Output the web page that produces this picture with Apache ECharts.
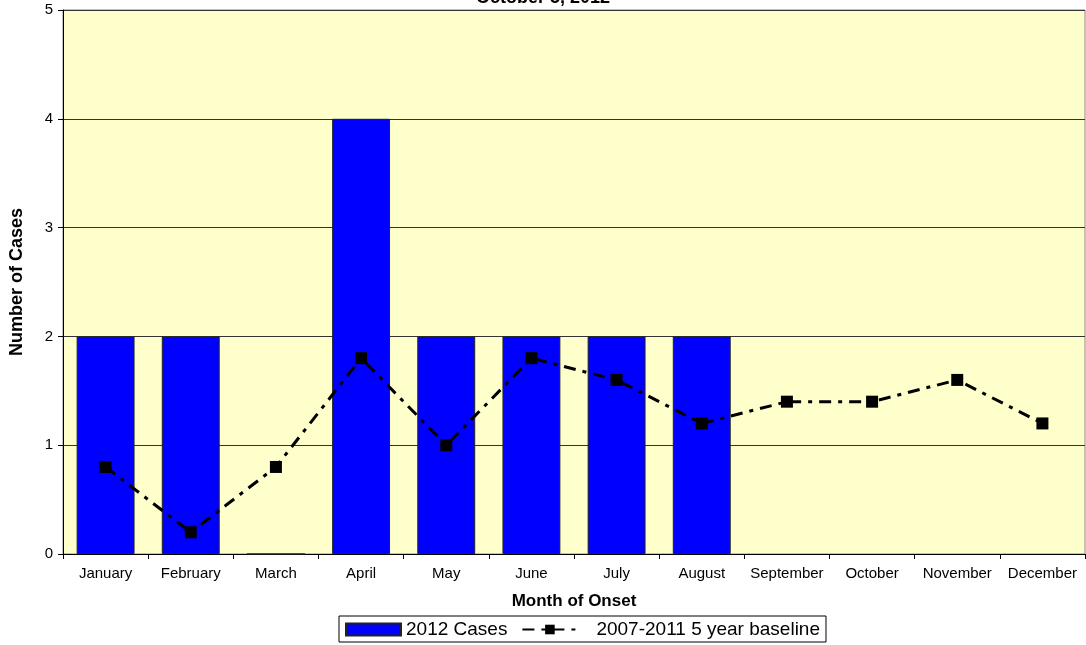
<!DOCTYPE html>
<html>
<head>
<meta charset="utf-8">
<script src="https://cdn.jsdelivr.net/npm/echarts@6/dist/echarts.min.js"></script>
<style>
  html, body { margin: 0; padding: 0; background: #fff; }
  #container { width: 1086px; height: 645px; }
</style>
</head>
<body>
<div id="container"></div>
<script>
var months = ['January', 'February', 'March', 'April', 'May', 'June', 'July', 'August', 'September', 'October', 'November', 'December'];
var cases2012 = [2, 2, 0, 4, 2, 2, 2, 2, null, null, null, null];
var baseline = [0.8, 0.2, 0.8, 1.8, 1.0, 1.8, 1.6, 1.2, 1.4, 1.4, 1.6, 1.2];
var yTicks = [0, 1, 2, 3, 4, 5];

window.onload = function () {
    var dom = document.getElementById("container");
    var myChart = echarts.init(dom);
    var font = 'Liberation Sans, Arial, sans-serif';
    var option = {
        animation: false,
        textStyle: { fontFamily: font },
        title: {
            text: 'October 5, 2012',
            left: 'center',
            top: -16,
            textStyle: { fontSize: 18, fontWeight: 'bold', color: '#000', fontFamily: font }
        },
        grid: {
            left: 63, right: 1, top: 10, bottom: 91,
            outerBoundsMode: 'none',
            show: true,
            backgroundColor: '#FFFFCC',
            borderColor: '#888',
            borderWidth: 1
        },
        legend: {
            bottom: 3,
            left: 339,
            padding: [4, 6, 3, 6],
            itemGap: 14,
            borderColor: '#000',
            borderWidth: 1,
            borderRadius: 0,
            textStyle: { fontSize: 19, color: '#000', fontFamily: font },
            data: [
                { name: '2012 Cases', icon: 'rect' },
                { name: '2007-2011 5 year baseline', textStyle: { padding: [0, 0, 0, 14] } }
            ],
            itemWidth: 55,
            itemHeight: 12
        },
        xAxis: {
            type: 'category',
            data: months,
            name: 'Month of Onset',
            nameLocation: 'middle',
            nameGap: 39,
            nameTextStyle: { fontSize: 17, fontWeight: 'bold', color: '#000', fontFamily: font },
            axisLine: { lineStyle: { color: '#000', width: 1 } },
            axisTick: { show: true, length: 5, lineStyle: { color: '#000' } },
            axisLabel: { color: '#000', fontSize: 15, margin: 12, fontFamily: font, interval: 0 }
        },
        yAxis: {
            type: 'value',
            min: yTicks[0],
            max: yTicks[yTicks.length - 1],
            interval: 1,
            name: 'Number of Cases',
            nameLocation: 'middle',
            nameGap: 37,
            nameTextStyle: { fontSize: 18, fontWeight: 'bold', color: '#000', fontFamily: font },
            axisLine: { show: true, lineStyle: { color: '#000', width: 1 } },
            axisTick: { show: true, length: 5, lineStyle: { color: '#000' } },
            axisLabel: { color: '#000', fontSize: 15, margin: 10, fontFamily: font },
            splitLine: { show: true, lineStyle: { color: '#333', width: 1 } }
        },
        series: [
            {
                name: '2012 Cases',
                type: 'bar',
                data: cases2012,
                barWidth: '68%',
                itemStyle: { color: '#0000FF', borderColor: '#222', borderWidth: 1 }
            },
            {
                name: '2007-2011 5 year baseline',
                type: 'line',
                data: baseline,
                symbol: 'rect',
                symbolSize: 12,
                itemStyle: { color: '#000' },
                lineStyle: { color: '#000', width: 3, type: [12, 7, 4, 7] }
            }
        ]
    };
    myChart.setOption(option);
};
</script>
</body>
</html>
